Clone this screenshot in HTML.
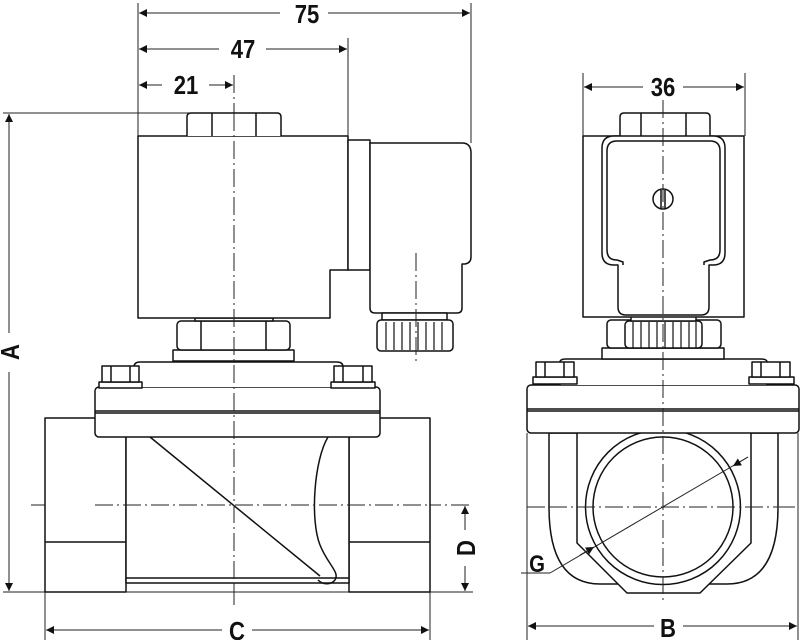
<!DOCTYPE html>
<html><head><meta charset="utf-8"><style>
html,body{margin:0;padding:0;background:#fff;}
svg{display:block;}
text{font-family:"Liberation Sans",sans-serif;font-weight:bold;fill:#111;}
</style></head><body>
<svg width="800" height="640" viewBox="0 0 800 640" xmlns="http://www.w3.org/2000/svg">
<defs>
<marker id="ar" viewBox="0 0 10 10" refX="10" refY="5" markerWidth="10" markerHeight="8" markerUnits="userSpaceOnUse" orient="auto-start-reverse"><path d="M0,0 L10,5 L0,10 z" fill="#111"/></marker>
</defs>
<g fill="none" stroke="#222" stroke-width="1">
<line x1="138" y1="3" x2="138" y2="136"/>
<line x1="471" y1="3" x2="471" y2="143"/>
<line x1="348" y1="38" x2="348" y2="136"/>
<line x1="3" y1="113" x2="230" y2="113"/>
<line x1="3" y1="592" x2="473" y2="592"/>
<line x1="45" y1="592" x2="45" y2="640"/>
<line x1="430" y1="592" x2="430" y2="640"/>
<line x1="583" y1="73" x2="583" y2="136"/>
<line x1="745" y1="73" x2="745" y2="136"/>
<line x1="527" y1="433" x2="527" y2="640"/>
<line x1="798" y1="433" x2="798" y2="640"/>
<line x1="139" y1="13" x2="280" y2="13" marker-start="url(#ar)"/>
<line x1="328" y1="13" x2="470" y2="13" marker-end="url(#ar)"/>
<line x1="139" y1="49" x2="219" y2="49" marker-start="url(#ar)"/>
<line x1="266" y1="49" x2="347" y2="49" marker-end="url(#ar)"/>
<line x1="139" y1="85" x2="162" y2="85" marker-start="url(#ar)"/>
<line x1="209" y1="85" x2="233" y2="85" marker-end="url(#ar)"/>
<line x1="584" y1="87" x2="643" y2="87" marker-start="url(#ar)"/>
<line x1="683" y1="87" x2="744" y2="87" marker-end="url(#ar)"/>
<line x1="9" y1="114" x2="9" y2="333" marker-start="url(#ar)"/>
<line x1="9" y1="372" x2="9" y2="591" marker-end="url(#ar)"/>
<line x1="465" y1="506" x2="465" y2="530" marker-start="url(#ar)"/>
<line x1="465" y1="566" x2="465" y2="591" marker-end="url(#ar)"/>
<line x1="46" y1="630" x2="222" y2="630" marker-start="url(#ar)"/>
<line x1="252" y1="630" x2="429" y2="630" marker-end="url(#ar)"/>
<line x1="528" y1="626" x2="654" y2="626" marker-start="url(#ar)"/>
<line x1="683" y1="626" x2="797" y2="626" marker-end="url(#ar)"/>
<g stroke-dasharray="18,4,2,4">
<line x1="234" y1="75" x2="234" y2="605"/>
<line x1="31" y1="505" x2="473" y2="505"/>
<line x1="527" y1="507" x2="795" y2="507"/>
</g>
<polyline points="521,573 550,573"/>
</g>
<g fill="#fff" stroke="#111" stroke-width="1.5" stroke-linejoin="round">
<rect x="45" y="418" width="81" height="174"/>
<line x1="45" y1="542" x2="126" y2="542"/>
<rect x="349" y="418" width="81" height="174"/>
<line x1="349" y1="542" x2="430" y2="542"/>
<rect x="126" y="434" width="223" height="149"/>
<line x1="126" y1="578" x2="349" y2="578"/>
<line x1="150" y1="437" x2="320" y2="576"/>
<path d="M328,437 C314,460 310,520 320,545 C328,565 340,572 335,580 C330,586 322,584 318,580" fill="none"/>
<rect x="95" y="387" width="285" height="50" rx="4"/>
<line x1="95" y1="411" x2="380" y2="411"/>
<line x1="95" y1="413" x2="380" y2="413"/>
<path d="M134,387 L134,367 Q134,362 140,362 L337,362 Q343,362 343,367 L343,387"/>
<rect x="99" y="382" width="43" height="6"/>
<rect x="102" y="366" width="37" height="16"/>
<line x1="111" y1="366" x2="111" y2="382"/><line x1="130" y1="366" x2="130" y2="382"/>
<rect x="331" y="382" width="44" height="6"/>
<rect x="334" y="366" width="38" height="16"/>
<line x1="343" y1="366" x2="343" y2="382"/><line x1="363" y1="366" x2="363" y2="382"/>
<rect x="173" y="350" width="121" height="11"/>
<rect x="177" y="321" width="113" height="29" rx="4"/>
<line x1="201" y1="321" x2="201" y2="350"/><line x1="266" y1="321" x2="266" y2="350"/>
<rect x="195" y="318" width="78" height="3"/>
<path d="M138,136 L348,136 L348,270 L330,270 L330,318 L138,318 Z"/>
<rect x="348" y="140" width="22" height="130"/>
<path d="M187,136 L187,117 Q187,113 191,113 L277,113 Q281,113 281,117 L281,136"/>
<line x1="212" y1="113" x2="212" y2="136"/><line x1="256" y1="113" x2="256" y2="136"/>
<path d="M370,143 L462,143 Q471,143 471,153 L471,257 Q471,263 465,264 L462,264 L462,308 Q462,313 457,313 L375,313 Q370,313 370,308 Z"/>
<rect x="382" y="313" width="65" height="7"/>
<rect x="377" y="320" width="76" height="31" rx="4"/>
<g stroke-width="1.2">
<line x1="386" y1="322" x2="386" y2="350"/><line x1="394" y1="322" x2="394" y2="350"/><line x1="402" y1="322" x2="402" y2="350"/><line x1="410" y1="322" x2="410" y2="350"/><line x1="418" y1="322" x2="418" y2="350"/><line x1="426" y1="322" x2="426" y2="350"/><line x1="434" y1="322" x2="434" y2="350"/><line x1="442" y1="322" x2="442" y2="350"/>
</g>
<path d="M549,433 L549,507 Q549,584 600,584 L727,584 Q778,584 778,507 L778,433 Z"/>
<path d="M577,420 L751,420 L751,543 L700,593 L627,593 L577,543 Z"/>
<circle cx="663" cy="507" r="77.5"/>
<circle cx="663" cy="507" r="70"/>
<rect x="527" y="385" width="272" height="48" rx="4"/>
<line x1="527" y1="409" x2="799" y2="409"/>
<line x1="527" y1="411" x2="799" y2="411"/>
<path d="M560,385 L560,362 Q560,359 566,359 L761,359 Q767,359 767,362 L767,385"/>
<rect x="533" y="377" width="44" height="7"/>
<rect x="536" y="362" width="38" height="15"/>
<line x1="545" y1="362" x2="545" y2="377"/><line x1="564" y1="362" x2="564" y2="377"/>
<rect x="749" y="377" width="45" height="7"/>
<rect x="752" y="362" width="38" height="15"/>
<line x1="761" y1="362" x2="761" y2="377"/><line x1="780" y1="362" x2="780" y2="377"/>
<rect x="602" y="348" width="122" height="11"/>
<rect x="607" y="320" width="114" height="28" rx="4"/>
<rect x="625" y="321" width="77" height="27" rx="4"/>
<g stroke-width="1.2">
<line x1="633" y1="322" x2="633" y2="348"/><line x1="641" y1="322" x2="641" y2="348"/><line x1="649" y1="322" x2="649" y2="348"/><line x1="657" y1="322" x2="657" y2="348"/><line x1="665" y1="322" x2="665" y2="348"/><line x1="673" y1="322" x2="673" y2="348"/><line x1="681" y1="322" x2="681" y2="348"/><line x1="689" y1="322" x2="689" y2="348"/><line x1="696" y1="322" x2="696" y2="348"/>
</g>
<rect x="631" y="315" width="65" height="6"/>
<rect x="583" y="136" width="161" height="181"/>
<path d="M620,136 L620,117 Q620,113 624,113 L706,113 Q710,113 710,117 L710,136"/>
<line x1="641" y1="113" x2="641" y2="136"/><line x1="686" y1="113" x2="686" y2="136"/>
<path d="M614,136 L713,136 Q725,136 725,148 L725,253 Q725,265 713,265 L709,265 L709,307 Q709,315 701,315 L626,315 Q618,315 618,307 L618,265 L614,265 Q602,265 602,253 L602,148 Q602,136 614,136 Z"/>
<path d="M617,141 L710,141 Q720,141 720,151 L720,250 Q720,260 710,260 L704,262 L704,265" fill="none"/>
<path d="M617,141 Q607,141 607,151 L607,250 Q607,260 617,260 L623,262 L623,265" fill="none"/>
<ellipse cx="663" cy="199" rx="10" ry="10"/>
<line x1="661" y1="190" x2="661" y2="208"/><line x1="665" y1="190" x2="665" y2="208"/>
</g>
<g stroke="#222" stroke-width="1" stroke-dasharray="18,4,2,4" fill="none">
<line x1="234" y1="113" x2="234" y2="605"/>
<line x1="663" y1="100" x2="663" y2="600"/>
<line x1="416" y1="253" x2="416" y2="362"/>
<line x1="95" y1="505" x2="430" y2="505"/>
<line x1="549" y1="507" x2="778" y2="507"/>
</g>
<g stroke="#222" stroke-width="1" fill="none">
<line x1="550" y1="573" x2="748" y2="457"/>
<line x1="580" y1="555" x2="594" y2="547" marker-end="url(#ar)"/>
<line x1="748" y1="457" x2="733" y2="466" marker-end="url(#ar)"/>
</g>
<g font-size="26" text-anchor="middle">
<text transform="translate(307,23) scale(0.85,1)">75</text>
<text transform="translate(243,58) scale(0.85,1)">47</text>
<text transform="translate(186,94) scale(0.85,1)">21</text>
<text transform="translate(663,96) scale(0.85,1)">36</text>
<text transform="translate(237,640) scale(0.85,1)">C</text>
<text transform="translate(668,637) scale(0.85,1)">B</text>
<text transform="translate(537,572) scale(0.85,1)" font-size="24">G</text>
<text transform="translate(19,352) rotate(-90) scale(0.85,1)">A</text>
<text transform="translate(475,548) rotate(-90) scale(0.85,1)">D</text>
</g>
</svg>
</body></html>
